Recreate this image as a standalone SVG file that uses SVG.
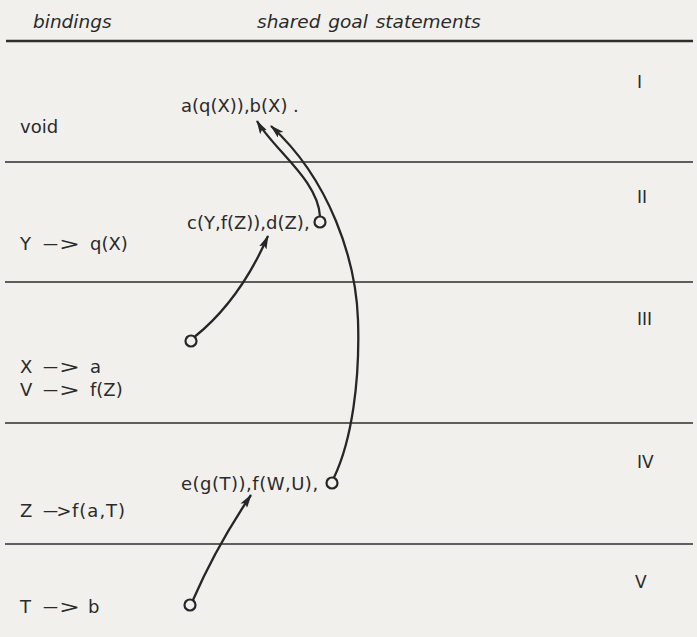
<svg xmlns="http://www.w3.org/2000/svg" width="697" height="637" viewBox="0 0 697 637">
<style>
  .hdr{font-family:"DejaVu Sans",sans-serif;font-style:italic;font-size:18.5px;fill:#2a2a2a;word-spacing:2px}
  .t{font-family:"DejaVu Sans",sans-serif;font-size:18px;fill:#2a2a2a}
  .dash{font-family:"DejaVu Sans",sans-serif;font-size:15px;fill:#2a2a2a}
  .gt{font-family:"DejaVu Sans",sans-serif;font-size:18px;fill:#2a2a2a}
  .rn{font-family:"DejaVu Sans",sans-serif;font-size:17px;fill:#2a2a2a}
  .rule{stroke:#2e2e2e;stroke-width:1.4;fill:none}
  .thick{stroke:#2e2e2e;stroke-width:2.6;fill:none}
  .con{stroke:#262626;stroke-width:2.3;fill:none}
  .dot{stroke:#262626;stroke-width:2.2;fill:none}
</style>
<defs>
  <marker id="ah" viewBox="0 0 14 8" refX="13" refY="4" markerWidth="14" markerHeight="8" markerUnits="userSpaceOnUse" orient="auto">
    <path d="M0,0 L14,4 L0,8 L3,4 z" fill="#262626"/>
  </marker>
</defs>
<rect width="697" height="637" fill="#f1f0ed"/>

<g id="header">
  <text class="hdr" x="33" y="28">bindings</text>
  <text class="hdr" x="257" y="28">shared goal statements</text>
  <line class="thick" x1="6" y1="41" x2="693" y2="41"/>
</g>

<g id="rules">
  <line class="rule" x1="5" y1="162" x2="693" y2="162"/>
  <line class="rule" x1="5" y1="282" x2="693" y2="282"/>
  <line class="rule" x1="5" y1="423" x2="693" y2="423"/>
  <line class="rule" x1="5" y1="544" x2="693" y2="544"/>
</g>

<g id="row1">
  <text class="t" x="20" y="133">void</text>
  <text class="t" x="181" y="112">a(q(X)),b(X) .</text>
  <text class="rn" x="637" y="88">I</text>
</g>

<g id="row2">
  <text class="t" x="20" y="250">Y</text>
  <text class="dash" x="43" y="249">—</text>
  <text class="gt" x="59" y="250" textLength="21" lengthAdjust="spacingAndGlyphs">&gt;</text>
  <text class="t" x="90" y="250">q(X)</text>
  <text class="t" x="187" y="229">c(Y,f(Z)),d(Z),</text>
  <circle class="dot" cx="320" cy="222" r="5.5"/>
  <text class="rn" x="637" y="203">II</text>
</g>

<g id="row3">
  <circle class="dot" cx="191" cy="341" r="5.5"/>
  <text class="t" x="20" y="373">X</text>
  <text class="dash" x="43" y="372">—</text>
  <text class="gt" x="59" y="373" textLength="21" lengthAdjust="spacingAndGlyphs">&gt;</text>
  <text class="t" x="90" y="373">a</text>
  <text class="t" x="20" y="396">V</text>
  <text class="dash" x="43" y="395">—</text>
  <text class="gt" x="59" y="396" textLength="21" lengthAdjust="spacingAndGlyphs">&gt;</text>
  <text class="t" x="90" y="396">f(Z)</text>
  <text class="rn" x="637" y="325">III</text>
</g>

<g id="row4">
  <text class="t" x="181" y="490" letter-spacing="0.5">e(g(T)),f(W,U),</text>
  <circle class="dot" cx="332" cy="483" r="5.5"/>
  <text class="t" x="20" y="517">Z</text>
  <text class="dash" x="43" y="516" font-size="12">—</text>
  <text class="gt" x="56.5" y="517" textLength="15" lengthAdjust="spacingAndGlyphs">&gt;</text>
  <text class="t" x="72" y="517" letter-spacing="1">f(a,T)</text>
  <text class="rn" x="637" y="468">IV</text>
</g>

<g id="row5">
  <circle class="dot" cx="190" cy="605" r="5.5"/>
  <text class="t" x="20" y="613">T</text>
  <text class="dash" x="43" y="612">—</text>
  <text class="gt" x="59" y="613" textLength="21" lengthAdjust="spacingAndGlyphs">&gt;</text>
  <text class="t" x="88" y="613">b</text>
  <text class="rn" x="635" y="588">V</text>
</g>

<g id="connectors">
  <path class="con" marker-end="url(#ah)" d="M 320 216.5 C 318 180, 274 150, 257 121"/>
  <path class="con" marker-end="url(#ah)" d="M 334 477.5 C 352 440, 360 380, 358 320 S 330 180, 271 126"/>
  <path class="con" marker-end="url(#ah)" d="M 195 336.5 Q 240 300, 268 236"/>
  <path class="con" marker-end="url(#ah)" d="M 193 600 Q 216 547, 251 495"/>
</g>
</svg>
